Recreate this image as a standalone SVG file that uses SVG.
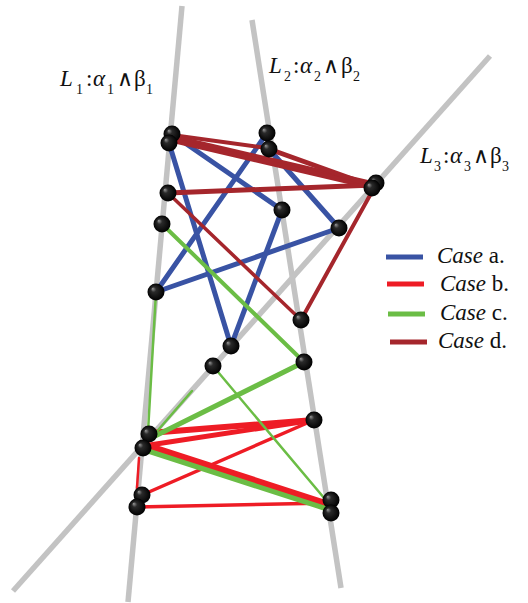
<svg xmlns="http://www.w3.org/2000/svg" width="528" height="603" viewBox="0 0 528 603">
<defs>
<radialGradient id="ball" cx="0.5" cy="0.5" r="0.5" fx="0.3" fy="0.3">
<stop offset="0" stop-color="#9a9a9a"/>
<stop offset="0.3" stop-color="#2a2a2a"/>
<stop offset="1" stop-color="#000"/>
</radialGradient>
<style>
.ax{stroke:#c3c3c3;stroke-width:5.5;fill:none}
.e{fill:none;stroke-linecap:round}
.a{stroke:#3953a4}
.b{stroke:#ee1c25}
.c{stroke:#6bbd45}
.d{stroke:#a5262c}
.n{fill:url(#ball)}
.t{font-family:"Liberation Serif","DejaVu Serif",serif;font-size:23px;fill:#111}
.s{font-size:14px}
.i{font-style:italic}
.w{font-family:"DejaVu Sans",sans-serif;font-size:22px;font-weight:300}
</style>
</defs>
<g id="axes">
<line class="ax" x1="182" y1="6" x2="128" y2="602"/>
<line class="ax" x1="252" y1="20" x2="341" y2="588"/>
<line class="ax" x1="490" y1="56" x2="13" y2="591"/>
</g>
<g id="connectors">
<g class="e a" stroke-width="5">
<line x1="172" y1="134" x2="282" y2="210"/>
<line x1="169" y1="143" x2="231" y2="346"/>
<line x1="267" y1="133" x2="156" y2="292"/>
<line x1="269" y1="149" x2="339" y2="228"/>
<line x1="156" y1="292" x2="339" y2="228"/>
<line x1="282" y1="210" x2="231" y2="346"/>
</g>
<g class="e d">
<line x1="172" y1="135" x2="267" y2="148" stroke-width="4"/>
<line x1="172" y1="137" x2="374" y2="184" stroke-width="5"/>
<line x1="171" y1="140" x2="372" y2="187" stroke-width="5"/>
<line x1="269" y1="149" x2="372" y2="186" stroke-width="5"/>
<line x1="168" y1="193" x2="374" y2="185" stroke-width="5"/>
<line x1="168" y1="193" x2="301" y2="320" stroke-width="3.5"/>
<line x1="374" y1="188" x2="301" y2="320" stroke-width="4"/>
</g>
<g class="e b">
<line x1="149" y1="433" x2="314" y2="420" stroke-width="6"/>
<line x1="143" y1="446" x2="314" y2="420" stroke-width="5"/>
<line x1="314" y1="420" x2="142" y2="495" stroke-width="3.5"/>
<line x1="145" y1="445" x2="330" y2="505" stroke-width="7"/>
<line x1="137" y1="507" x2="330" y2="503" stroke-width="3.5"/>
<line x1="139" y1="458" x2="137" y2="488" stroke-width="2.5"/>
</g>
<g class="e c">
<line x1="162" y1="224" x2="304" y2="362" stroke-width="4"/>
<line x1="156" y1="292" x2="148" y2="432" stroke-width="2.5"/>
<line x1="213" y1="366" x2="330" y2="505" stroke-width="2.5"/>
<line x1="147" y1="440" x2="304" y2="362" stroke-width="5"/>
<line x1="146" y1="444" x2="192" y2="391" stroke-width="2.5"/>
<line x1="145" y1="450" x2="330" y2="510" stroke-width="5"/>
</g>
</g>
<g id="nodes">
<g id="n1"><circle class="n" cx="172" cy="134" r="8.5"/></g>
<g id="n2"><circle class="n" cx="169" cy="143" r="8.5"/></g>
<g id="n3"><circle class="n" cx="267" cy="133" r="8.5"/></g>
<g id="n4"><circle class="n" cx="269" cy="149" r="8.5"/></g>
<g id="n5"><circle class="n" cx="168" cy="193" r="8.5"/></g>
<g id="n6"><circle class="n" cx="282" cy="210" r="8.5"/></g>
<g id="n7"><circle class="n" cx="376" cy="183" r="8.5"/></g>
<g id="n8"><circle class="n" cx="372" cy="188" r="8.5"/></g>
<g id="n9"><circle class="n" cx="162" cy="224" r="8.5"/></g>
<g id="n10"><circle class="n" cx="339" cy="228" r="8.5"/></g>
<g id="n11"><circle class="n" cx="156" cy="292" r="8.5"/></g>
<g id="n12"><circle class="n" cx="301" cy="320" r="8.5"/></g>
<g id="n13"><circle class="n" cx="231" cy="346" r="8.5"/></g>
<g id="n14"><circle class="n" cx="213" cy="366" r="8.5"/></g>
<g id="n15"><circle class="n" cx="304" cy="362" r="8.5"/></g>
<g id="n16"><circle class="n" cx="149" cy="434" r="8.5"/></g>
<g id="n17"><circle class="n" cx="143" cy="448" r="8.5"/></g>
<g id="n18"><circle class="n" cx="314" cy="420" r="8.5"/></g>
<g id="n19"><circle class="n" cx="142" cy="495" r="8.5"/></g>
<g id="n20"><circle class="n" cx="137" cy="507" r="8.5"/></g>
<g id="n21"><circle class="n" cx="331" cy="500" r="8.5"/></g>
<g id="n22"><circle class="n" cx="331" cy="513" r="8.5"/></g>
</g>
<g id="labels">
<text class="t"><tspan class="i" x="60" y="86">L</tspan><tspan class="s" x="76" y="94">1</tspan><tspan x="86" y="86">:</tspan><tspan class="i" x="93" y="86">α</tspan><tspan class="s" x="107" y="94">1</tspan><tspan class="w" x="117" y="86">∧</tspan><tspan x="134" y="86">β</tspan><tspan class="s" x="146" y="94">1</tspan></text>
<text class="t"><tspan class="i" x="269" y="73">L</tspan><tspan class="s" x="284" y="81">2</tspan><tspan x="293" y="73">:</tspan><tspan class="i" x="300" y="73">α</tspan><tspan class="s" x="314" y="81">2</tspan><tspan class="w" x="323" y="73">∧</tspan><tspan x="341" y="73">β</tspan><tspan class="s" x="353" y="81">2</tspan></text>
<text class="t"><tspan class="i" x="420" y="163">L</tspan><tspan class="s" x="434" y="171">3</tspan><tspan x="443" y="163">:</tspan><tspan class="i" x="450" y="163">α</tspan><tspan class="s" x="464" y="171">3</tspan><tspan class="w" x="473" y="163">∧</tspan><tspan x="490" y="163">β</tspan><tspan class="s" x="502" y="171">3</tspan></text>
</g>
<g id="legend">
<line x1="386" y1="257" x2="423" y2="257" stroke="#3953a4" stroke-width="5"/>
<line x1="387" y1="284" x2="424" y2="284" stroke="#ee1c25" stroke-width="5"/>
<line x1="388" y1="314" x2="425" y2="314" stroke="#6bbd45" stroke-width="5"/>
<line x1="390" y1="342" x2="427" y2="342" stroke="#a5262c" stroke-width="5"/>
<text class="t" x="437" y="263"><tspan class="i">Case</tspan> a.</text>
<text class="t" x="440" y="291"><tspan class="i">Case</tspan> b.</text>
<text class="t" x="440" y="320"><tspan class="i">Case</tspan> c.</text>
<text class="t" x="438" y="348"><tspan class="i">Case</tspan> d.</text>
</g>
</svg>
